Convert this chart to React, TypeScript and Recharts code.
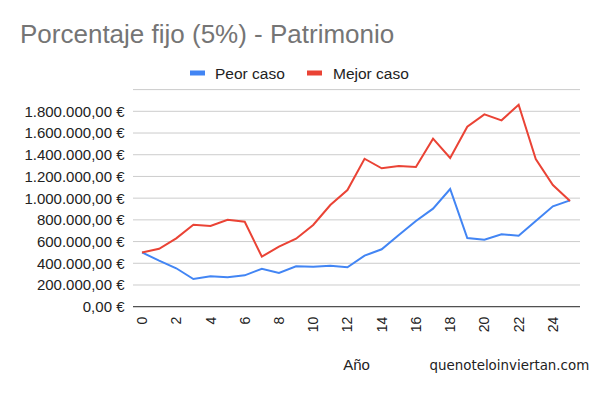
import React from 'react';
import { LineChart, Line, XAxis, YAxis, CartesianGrid } from 'recharts';

const years = [0,1,2,3,4,5,6,7,8,9,10,11,12,13,14,15,16,17,18,19,20,21,22,23,24,25];
const peorCaso = [500000,424000,354000,255000,280000,271000,289000,350000,310000,372000,368000,378000,363000,470000,529000,660000,789000,903000,1084000,633000,617000,667000,654000,789000,925000,980000];
const mejorCaso = [500000,534000,630000,755000,743000,801000,783000,461000,553000,626000,753000,937000,1075000,1363000,1275000,1296000,1287000,1548000,1370000,1658000,1772000,1717000,1861000,1361000,1121000,974000];
const yTicks = [0,200000,400000,600000,800000,1000000,1200000,1400000,1600000,1800000];
const xTicks = [0,2,4,6,8,10,12,14,16,18,20,22,24];
const seriesNames = ['Peor caso', 'Mejor caso'];
const titleText = 'Porcentaje fijo (5%) - Patrimonio';
const xAxisTitle = 'Año';
const watermark = 'quenoteloinviertan.com';

const data = years.map((y, i) => ({ x: y, peor: peorCaso[i], mejor: mejorCaso[i] }));

const BLUE = '#4285F4';
const RED = '#EA4335';
const FONT = '"Liberation Sans", Arial, sans-serif';

const fmtEuro = (v: number) =>
  Math.round(v).toString().replace(/\B(?=(\d{3})+(?!\d))/g, '.') + ',00 €';

const YTick = (props: any) => {
  const { y, payload } = props;
  return (
    <text x={124.5} y={y} dy="0.36em" textAnchor="end" fontSize={15} fill="#222" fontFamily={FONT}>
      {fmtEuro(payload.value)}
    </text>
  );
};

const XTick = (props: any) => {
  const { x, y, payload } = props;
  const ay = y + 2;
  return (
    <text x={x} y={ay} dy="0.36em" textAnchor="end" fontSize={14} fill="#222" fontFamily={FONT}
      transform={`rotate(-90, ${x}, ${ay})`}>
      {payload.value}
    </text>
  );
};

export default function App() {
  return (
    <div style={{ position: 'absolute', left: 0, top: 0, width: 600, height: 394, background: '#fff' }}>
      <LineChart width={600} height={394} data={data}
        margin={{ top: 89.6, right: 20, bottom: 0, left: 0 }}>
        <CartesianGrid vertical={false} stroke="#cccccc" />
        <XAxis dataKey="x" type="number" domain={[0, 25]} ticks={xTicks} interval={0}
          padding={{ left: 9, right: 10 }} height={87.3} axisLine={{ stroke: '#333', strokeWidth: 1 }}
          tickLine={false} tick={<XTick />} />
        <YAxis type="number" domain={[0, 2000000]} ticks={yTicks} interval={0} width={133}
          axisLine={false} tickLine={false} tick={<YTick />} />
        <Line type="linear" dataKey="peor" name={seriesNames[0]} stroke={BLUE} strokeWidth={2}
          dot={false} isAnimationActive={false} />
        <Line type="linear" dataKey="mejor" name={seriesNames[1]} stroke={RED} strokeWidth={2}
          dot={false} isAnimationActive={false} />
      </LineChart>
      <svg width={600} height={394} style={{ position: 'absolute', left: 0, top: 0, pointerEvents: 'none' }}>
        <text x={20} y={43} fontSize={26} fill="#757575" fontFamily={FONT}>{titleText}</text>
        <rect x={190} y={70.5} width={15} height={5} fill={BLUE} />
        <text x={215} y={78.5} fontSize={15.5} fill="#222" fontFamily={FONT}>{seriesNames[0]}</text>
        <rect x={307} y={70.5} width={15} height={5} fill={RED} />
        <text x={333} y={78.5} fontSize={15.5} fill="#222" fontFamily={FONT}>{seriesNames[1]}</text>
        <text x={356.5} y={370} textAnchor="middle" fontSize={15} fill="#222" fontFamily={FONT}>{xAxisTitle}</text>
        <text x={429.5} y={370} fontSize={13.4} fill="#222" fontFamily='"DejaVu Sans", sans-serif'>{watermark}</text>
      </svg>
    </div>
  );
}
